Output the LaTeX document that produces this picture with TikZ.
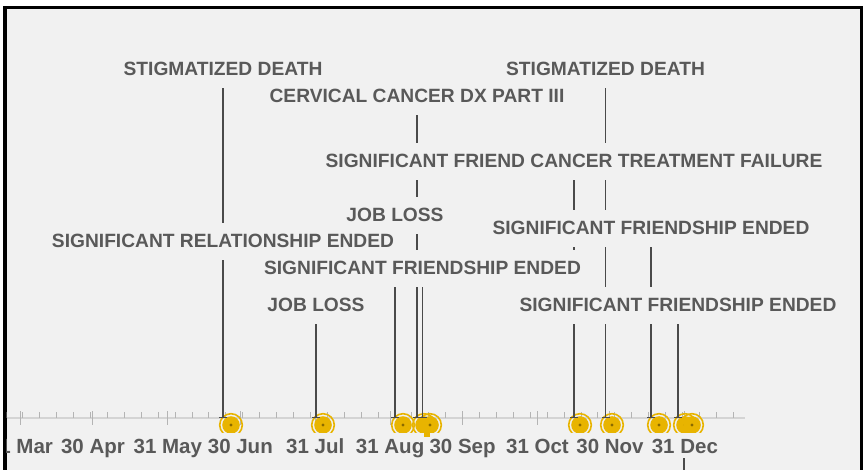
\documentclass[tikz,border=0pt]{standalone}
\usepackage{fontspec}
\setmainfont{Liberation Sans}
\usetikzlibrary{arrows.meta}

\definecolor{panel}{HTML}{F1F1F1}
\definecolor{ink}{HTML}{595959}
\definecolor{stemgray}{HTML}{4A4A4A}
\definecolor{gold}{HTML}{E8B400}
\definecolor{golddot}{HTML}{8A6A00}
\definecolor{axisgray}{HTML}{D4D4D4}

\pgfdeclarelayer{back}
\pgfdeclarelayer{mid}
\pgfsetlayers{back,mid,main}

\tikzset{
	evlbl/.style={fill=panel,text=ink,anchor=base,inner xsep=3pt,inner ysep=12pt,
		font=\bfseries\fontsize{19.2}{20}\selectfont},
	monthlbl/.style={text=ink,anchor=base,inner sep=0pt,
		font=\bfseries\fontsize{20.5}{22}\selectfont},
	stem/.style={draw=stemgray,line width=1.3pt,-{Bar[width=8pt,line width=1.5pt]}},
	axisline/.style={draw=axisgray,line width=1.5pt},
	minortick/.style={draw=axisgray!85!black,line width=0.9pt},
	majortick/.style={draw=axisgray!85!black,line width=1pt},
}

\begin{document}
\begin{tikzpicture}[x=1pt,y=-1pt]
	\useasboundingbox (0,0) rectangle (865,470);

	% panel and frame
	\begin{pgfonlayer}{back}
		\fill[white] (0,0) rectangle (865,470);
		\fill[panel] (5,7) rectangle (861.6,470);
		\draw[line width=3.4pt] (5,470) -- (5,7.3) -- (861.6,7.3) -- (861.6,470);
	\end{pgfonlayer}

	% time axis
	\coordinate (ax0) at (6.7,418);
	\coordinate (ax1) at (745,418);
	\begin{pgfonlayer}{back}
		\begin{scope}
			\clip (6.7,9) rectangle (860,470);
			\draw[axisline] (ax0) -- (ax1);
			\foreach \d in {24,31,...,330}
				\draw[minortick] ({2.416*\d-52},412) -- ++(0,6);
			\foreach \d in {30,60,91,121,152,183,213,244,274,305}
				\draw[majortick] ({2.416*\d-52},411) -- ++(0,14);
		\end{scope}
		% event markers
		\begin{scope}
			\clip (6.7,400) rectangle (860,432);
			\foreach \c in {231,323,403,424,430,580,612,659,685,692} {
				\draw[gold,line width=1.6pt] (\c,425) circle (11.3);
				\fill[gold] (\c,425) circle (8.8);
				\fill[golddot] (\c,425) circle (1.6);
			}
		\end{scope}
		\fill[gold] (424,431) rectangle (430,437);
	\end{pgfonlayer}

	% month labels
	\begin{scope}
		\clip (6.7,9) rectangle (860,470);
		\foreach \d/\m in {30/31 Mar,60/30 Apr,91/31 May,121/30 Jun,152/31 Jul,
			183/31 Aug,213/30 Sep,244/31 Oct,274/30 Nov,305/31 Dec}
			\node[monthlbl] (m\d) at ({2.416*\d-52},453) {\m};
	\end{scope}

	% event labels
	\node[evlbl] (sdA) at (223,76) {STIGMATIZED DEATH};
	\node[evlbl] (sdB) at (605.5,76) {STIGMATIZED DEATH};
	\node[evlbl] (cerv) at (417,103) {CERVICAL CANCER DX PART III};
	\node[evlbl] (fail) at (574,168) {SIGNIFICANT FRIEND CANCER TREATMENT FAILURE};
	\node[evlbl] (jobA) at (395,222) {JOB LOSS};
	\node[evlbl] (sfeA) at (651,235) {SIGNIFICANT FRIENDSHIP ENDED};
	\node[evlbl] (sre) at (223,248) {SIGNIFICANT RELATIONSHIP ENDED};
	\node[evlbl] (sfeB) at (422.5,275) {SIGNIFICANT FRIENDSHIP ENDED};
	\node[evlbl] (jobB) at (316,312) {JOB LOSS};
	\node[evlbl] (sfeC) at (678,312) {SIGNIFICANT FRIENDSHIP ENDED};

	% stem feet on the axis
	\coordinate (fsdA) at (223,418);
	\coordinate (fsre) at (223,418);
	\coordinate (fjobB) at (316,418);
	\coordinate (fjobA) at (395,418);
	\coordinate (fcerv) at (417,418);
	\coordinate (fsfeB) at (422.5,418);
	\coordinate (ffail) at (574,418);
	\coordinate (fsdB) at (605.5,418);
	\coordinate (fsfeA) at (651,418);
	\coordinate (fsfeC) at (678,418);
	\coordinate (dn0) at (684,458);
	\coordinate (dn1) at (684,470);

	\begin{pgfonlayer}{mid}
		\draw[stem] (sdA) -- (fsdA);
		\draw[stem] (sre) -- (fsre);
		\draw[stem] (jobB) -- (fjobB);
		\draw[stem] (jobA) -- (fjobA);
		\draw[stem] (cerv) -- (fcerv);
		\draw[stem] (sfeB) -- (fsfeB);
		\draw[stem] (fail) -- (ffail);
		\draw[stem] (sdB) -- (fsdB);
		\draw[stem] (sfeA) -- (fsfeA);
		\draw[stem] (sfeC) -- (fsfeC);
		\draw[draw=stemgray,line width=1.3pt] (dn0) -- (dn1);
	\end{pgfonlayer}
\end{tikzpicture}
\end{document}
